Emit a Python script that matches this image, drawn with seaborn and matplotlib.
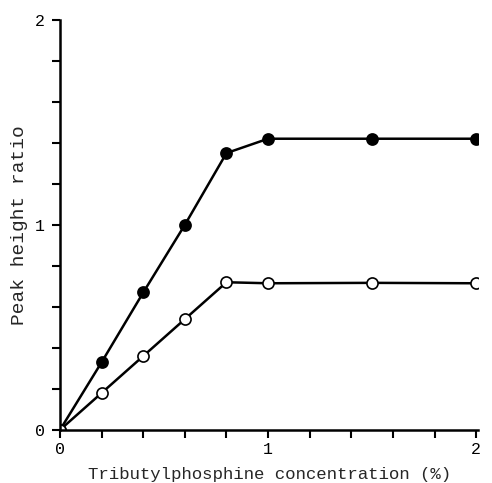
import matplotlib
matplotlib.use("Agg")
import matplotlib.pyplot as plt
import seaborn as sns
import pandas as pd
import numpy as np

conc = [0, 0.2, 0.4, 0.6, 0.8, 1.0, 1.5, 2.0]
filled_vals = [0, 0.33, 0.67, 1.0, 1.35, 1.42, 1.42, 1.42]
open_vals = [0, 0.18, 0.36, 0.54, 0.72, 0.715, 0.717, 0.715]
x_ticklabels = ["0", "1", "2"]
y_ticklabels = ["0", "1", "2"]

sns.set_style("white")
plt.rcParams['font.family'] = ['Liberation Mono', 'DejaVu Sans']

fig = plt.figure(figsize=(4.92, 4.83), dpi=100)
ax = fig.add_axes([0.122, 0.110, 0.850, 0.849])

df_f = pd.DataFrame({"x": conc, "y": filled_vals})
df_o = pd.DataFrame({"x": conc, "y": open_vals})

sns.lineplot(data=df_f, x="x", y="y", ax=ax, color="black", linewidth=1.8,
             marker="o", markersize=8, markerfacecolor="black",
             markeredgecolor="black", markeredgewidth=1.2)
sns.lineplot(data=df_o, x="x", y="y", ax=ax, color="black", linewidth=1.8,
             marker="o", markersize=8, markerfacecolor="white",
             markeredgecolor="black", markeredgewidth=1.2)

ticks = np.arange(0, 2.01, 0.2)
ax.set_xlim(0, 2.01)
ax.set_ylim(0, 2)
ax.set_xticks(ticks)
ax.set_yticks(ticks)
ax.set_xticklabels([x_ticklabels[int(round(t))] if abs(t - round(t)) < 1e-6 else "" for t in ticks])
ax.set_yticklabels([y_ticklabels[int(round(t))] if abs(t - round(t)) < 1e-6 else "" for t in ticks])

for s in ["top", "right"]:
    ax.spines[s].set_visible(False)
for s in ["left", "bottom"]:
    ax.spines[s].set_linewidth(1.8)
    ax.spines[s].set_color("black")

ax.tick_params(axis="both", which="major", direction="out", length=6, width=1.5,
               colors="black", labelsize=12, bottom=True, left=True)
ax.tick_params(axis="x", pad=3)
ax.tick_params(axis="y", pad=5)

ax.set_xlabel("Tributylphosphine concentration (%)", fontsize=12.5, labelpad=7)
ax.set_ylabel("Peak height ratio", fontsize=14)
ax.yaxis.set_label_coords(-0.077, 0.5)

fig.savefig("out.png", dpi=100)
